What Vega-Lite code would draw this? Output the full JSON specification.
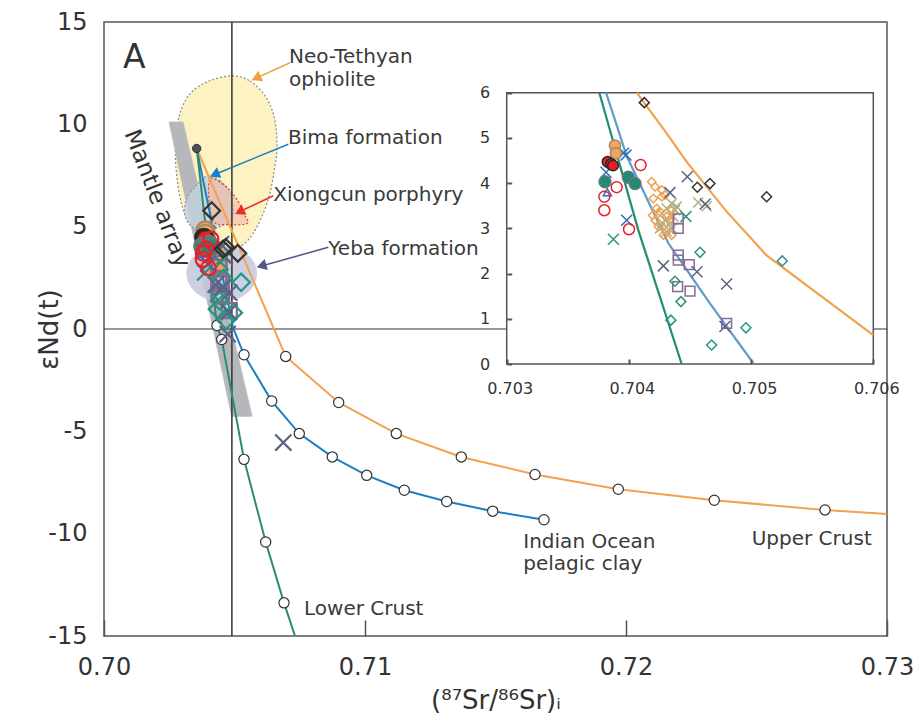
{
"$schema":"https://vega.github.io/schema/vega-lite/v6.json",
"width":783,"height":614,
"autosize":{"type":"none"},
"padding":{"left":104,"top":22,"right":27,"bottom":87},
"background":"white",
"config":{"font":"DejaVu Sans","view":{"stroke":"#555555","strokeWidth":1.5},"axis":{"grid":false,"labelColor":"#333333","titleColor":"#333333","titleFontWeight":"normal","labelFont":"DejaVu Sans","titleFont":"DejaVu Sans"}},
"datasets":{
"shapes":[
{"s":"oph","i":0,"x":0.70490,"y":12.37},{"s":"oph","i":1,"x":0.70559,"y":12.12},{"s":"oph","i":2,"x":0.70617,"y":11.39},{"s":"oph","i":3,"x":0.70651,"y":10.41},{"s":"oph","i":4,"x":0.70663,"y":9.05},{"s":"oph","i":5,"x":0.70655,"y":7.98},{"s":"oph","i":6,"x":0.70628,"y":6.27},{"s":"oph","i":7,"x":0.70571,"y":4.66},{"s":"oph","i":8,"x":0.70510,"y":3.95},{"s":"oph","i":9,"x":0.70440,"y":3.85},{"s":"oph","i":10,"x":0.70380,"y":4.30},{"s":"oph","i":11,"x":0.70320,"y":5.30},{"s":"oph","i":12,"x":0.70290,"y":6.50},{"s":"oph","i":13,"x":0.70275,"y":8.00},{"s":"oph","i":14,"x":0.70275,"y":9.20},{"s":"oph","i":15,"x":0.70290,"y":10.50},{"s":"oph","i":16,"x":0.70330,"y":11.50},{"s":"oph","i":17,"x":0.70400,"y":12.10},
{"s":"mantle","i":0,"x":0.70249,"y":10.12},{"s":"mantle","i":1,"x":0.70303,"y":10.12},{"s":"mantle","i":2,"x":0.70568,"y":-4.27},{"s":"mantle","i":3,"x":0.70489,"y":-4.27},
{"s":"xc","i":0,"x":0.704061,"y":7.34},{"s":"xc","i":1,"x":0.704521,"y":7.10},{"s":"xc","i":2,"x":0.704904,"y":6.66},{"s":"xc","i":3,"x":0.705211,"y":6.07},{"s":"xc","i":4,"x":0.705402,"y":5.54},{"s":"xc","i":5,"x":0.705479,"y":5.15},{"s":"xc","i":6,"x":0.704674,"y":5.10},{"s":"xc","i":7,"x":0.704215,"y":5.24},{"s":"xc","i":8,"x":0.704023,"y":6.27},
{"s":"bima","i":0,"x":0.703985,"y":7.49},{"s":"bima","i":1,"x":0.704444,"y":7.24},{"s":"bima","i":2,"x":0.704789,"y":6.76},{"s":"bima","i":3,"x":0.704943,"y":6.02},{"s":"bima","i":4,"x":0.704904,"y":5.39},{"s":"bima","i":5,"x":0.704444,"y":5.00},{"s":"bima","i":6,"x":0.703870,"y":4.80},{"s":"bima","i":7,"x":0.703372,"y":5.00},{"s":"bima","i":8,"x":0.703103,"y":5.54},{"s":"bima","i":9,"x":0.703142,"y":6.27},{"s":"bima","i":10,"x":0.703487,"y":6.95},
{"s":"yeba","i":0,"x":0.705851,"y":2.71},{"s":"yeba","i":1,"x":0.705671,"y":3.393},{"s":"yeba","i":2,"x":0.705181,"y":3.893},{"s":"yeba","i":3,"x":0.704510,"y":4.076},{"s":"yeba","i":4,"x":0.703840,"y":3.893},{"s":"yeba","i":5,"x":0.703349,"y":3.393},{"s":"yeba","i":6,"x":0.703169,"y":2.71},{"s":"yeba","i":7,"x":0.703349,"y":2.027},{"s":"yeba","i":8,"x":0.703840,"y":1.527},{"s":"yeba","i":9,"x":0.704510,"y":1.344},{"s":"yeba","i":10,"x":0.705181,"y":1.527},{"s":"yeba","i":11,"x":0.705671,"y":2.027}
],
"vref":[{"x":0.7049,"y":-15,"y2":15}],
"href":[{"x":0.70,"x2":0.73,"y":0}],
"curves":[
{"s":"UC","i":0,"x":0.703552,"y":8.82},{"s":"UC","i":1,"x":0.706962,"y":-1.34},{"s":"UC","i":2,"x":0.708992,"y":-3.59},{"s":"UC","i":3,"x":0.711199,"y":-5.11},{"s":"UC","i":4,"x":0.713690,"y":-6.25},{"s":"UC","i":5,"x":0.716513,"y":-7.11},{"s":"UC","i":6,"x":0.719705,"y":-7.83},{"s":"UC","i":7,"x":0.723383,"y":-8.37},{"s":"UC","i":8,"x":0.727625,"y":-8.84},{"s":"UC","i":9,"x":0.73,"y":-9.04},
{"s":"IOPC","i":0,"x":0.703552,"y":8.82},{"s":"IOPC","i":1,"x":0.704943,"y":0.07},{"s":"IOPC","i":2,"x":0.705364,"y":-1.26},{"s":"IOPC","i":3,"x":0.706425,"y":-3.52},{"s":"IOPC","i":4,"x":0.707483,"y":-5.11},{"s":"IOPC","i":5,"x":0.708747,"y":-6.25},{"s":"IOPC","i":6,"x":0.710065,"y":-7.15},{"s":"IOPC","i":7,"x":0.711506,"y":-7.88},{"s":"IOPC","i":8,"x":0.713130,"y":-8.43},{"s":"IOPC","i":9,"x":0.714893,"y":-8.90},{"s":"IOPC","i":10,"x":0.716858,"y":-9.32},
{"s":"LC","i":0,"x":0.703552,"y":8.82},{"s":"LC","i":1,"x":0.704330,"y":0.17},{"s":"LC","i":2,"x":0.704510,"y":-0.51},{"s":"LC","i":3,"x":0.705364,"y":-6.37},{"s":"LC","i":4,"x":0.706195,"y":-10.41},{"s":"LC","i":5,"x":0.706897,"y":-13.38},{"s":"LC","i":6,"x":0.707318,"y":-15.0}
],
"nodes":[
{"x":0.706962,"y":-1.34},{"x":0.708992,"y":-3.59},{"x":0.711199,"y":-5.11},{"x":0.713690,"y":-6.25},{"x":0.716513,"y":-7.11},{"x":0.719705,"y":-7.83},{"x":0.723383,"y":-8.37},{"x":0.727625,"y":-8.84},
{"x":0.705364,"y":-1.26},{"x":0.706425,"y":-3.52},{"x":0.707483,"y":-5.11},{"x":0.708747,"y":-6.25},{"x":0.710065,"y":-7.15},{"x":0.711506,"y":-7.88},{"x":0.713130,"y":-8.43},{"x":0.714893,"y":-8.90},{"x":0.716858,"y":-9.32},
{"x":0.704330,"y":0.17},{"x":0.704510,"y":-0.51},{"x":0.705364,"y":-6.37},{"x":0.706195,"y":-10.41},{"x":0.706897,"y":-13.38}
],
"start":[{"x":0.703552,"y":8.82}],
"markers":[
{"g":"kh","x":0.704568,"y":3.57},{"g":"kh","x":0.704636,"y":3.49},{"g":"kh","x":0.70427,"y":3.33},{"g":"kh","x":0.704309,"y":3.44},{"g":"kh","x":0.70435,"y":3.55},{"g":"kh","x":0.704377,"y":3.40},{"g":"kh","x":0.704295,"y":3.18},{"g":"kh","x":0.704336,"y":3.11},{"g":"kh","x":0.704254,"y":3.0},{"g":"kh","x":0.704364,"y":3.26},{"g":"kh","x":0.704391,"y":3.48},{"g":"kh","x":0.704276,"y":3.11},{"g":"kh","x":0.70435,"y":3.0},{"g":"kh","x":0.704309,"y":2.93},
{"g":"od","x":0.704186,"y":4.03},{"g":"od","x":0.704214,"y":3.92},{"g":"od","x":0.70427,"y":3.85},{"g":"od","x":0.704295,"y":3.74},{"g":"od","x":0.7042,"y":3.66},{"g":"od","x":0.704227,"y":3.44},{"g":"od","x":0.704194,"y":3.29},{"g":"od","x":0.704214,"y":3.18},{"g":"od","x":0.704241,"y":3.04},{"g":"od","x":0.704282,"y":2.85},{"g":"od","x":0.704309,"y":2.93},{"g":"od","x":0.70435,"y":2.85},{"g":"od","x":0.704254,"y":3.37},{"g":"od","x":0.704309,"y":3.26},{"g":"od","x":0.704336,"y":3.18},{"g":"od","x":0.70427,"y":3.70},{"g":"od","x":0.70435,"y":3.40},
{"g":"ps","x":0.704404,"y":3.21},{"g":"ps","x":0.704404,"y":3.0},{"g":"ps","x":0.704404,"y":2.41},{"g":"ps","x":0.704404,"y":2.30},{"g":"ps","x":0.704494,"y":2.20},{"g":"ps","x":0.704399,"y":1.71},{"g":"ps","x":0.7045,"y":1.61},{"g":"ps","x":0.7048,"y":0.90},
{"g":"td","x":0.704582,"y":2.47},{"g":"td","x":0.704377,"y":1.83},{"g":"td","x":0.704426,"y":1.38},{"g":"td","x":0.704344,"y":0.97},{"g":"td","x":0.704677,"y":0.42},{"g":"td","x":0.704958,"y":0.80},{"g":"td","x":0.705255,"y":2.28},
{"g":"sx","x":0.704336,"y":3.79},{"g":"sx","x":0.704478,"y":4.14},{"g":"sx","x":0.704625,"y":3.54},{"g":"sx","x":0.704282,"y":2.17},{"g":"sx","x":0.704557,"y":2.04},{"g":"sx","x":0.7048,"y":1.77},{"g":"sx","x":0.704786,"y":0.83},{"g":"sx","x":0.70687,"y":-5.55},{"g":"sx","x":0.70474,"y":-0.25},
{"g":"tx","x":0.703873,"y":2.76},{"g":"tx","x":0.704467,"y":3.26},
{"g":"bx","x":0.703976,"y":4.62},{"g":"bx","x":0.703955,"y":4.66},{"g":"bx","x":0.703813,"y":4.24},{"g":"bx","x":0.703982,"y":3.18},
{"g":"bt","x":0.703824,"y":3.80},
{"g":"oc","x":0.703886,"y":4.83},{"g":"oc","x":0.703894,"y":4.66},
{"g":"rf","x":0.703826,"y":4.47},{"g":"rf","x":0.703854,"y":4.42},{"g":"rf","x":0.70387,"y":4.39},
{"g":"tc","x":0.703804,"y":4.03},{"g":"tc","x":0.703995,"y":4.13},{"g":"tc","x":0.70405,"y":3.99},
{"g":"ro","x":0.704096,"y":4.40},{"g":"ro","x":0.7039,"y":3.91},{"g":"ro","x":0.703799,"y":3.70},{"g":"ro","x":0.703799,"y":3.40},{"g":"ro","x":0.704001,"y":2.98},
{"g":"bd","x":0.704126,"y":5.78},{"g":"bd","x":0.70456,"y":3.91},{"g":"bd","x":0.704663,"y":3.99},{"g":"bd","x":0.705127,"y":3.70}
],
"arrows":[
{"s":"a_oph","x":0.707126,"y":13.01,"x2":0.705831,"y2":12.26},
{"s":"a_bima","x":0.707061,"y":9.03,"x2":0.704238,"y2":7.55},
{"s":"a_xc","x":0.706487,"y":6.51,"x2":0.705192,"y2":5.73},
{"s":"a_yeba","x":0.708594,"y":3.99,"x2":0.706034,"y2":3.08}
],
"labels":[
{"t":"Neo-Tethyan","x":0.707088,"y":13.0},
{"t":"ophiolite","x":0.707088,"y":11.88},
{"t":"Bima formation","x":0.70705,"y":9.06},
{"t":"Xiongcun porphyry","x":0.706487,"y":6.27},
{"t":"Yeba formation","x":0.708594,"y":3.63},
{"t":"Lower Crust","x":0.707663,"y":-13.98},
{"t":"Indian Ocean","x":0.716065,"y":-10.72},
{"t":"pelagic clay","x":0.716065,"y":-11.78},
{"t":"Upper Crust","x":0.724816,"y":-10.56}
],
"alabel":[{"t":"A","x":0.700728,"y":12.76}],
"mlabel":[{"t":"Mantle array","x":0.702031,"y":6.37}],
"insetbox":[{"x":0.703,"x2":0.706,"y":0,"y2":6}],
"curves_inset":[
{"s":"UC_i","i":0,"x":0.704064,"y":6.0},{"s":"UC_i","i":1,"x":0.704309,"y":5.10},{"s":"UC_i","i":2,"x":0.704473,"y":4.47},{"s":"UC_i","i":3,"x":0.7048,"y":3.37},{"s":"UC_i","i":4,"x":0.704977,"y":2.85},{"s":"UC_i","i":5,"x":0.705127,"y":2.40},{"s":"UC_i","i":6,"x":0.706,"y":0.64},
{"s":"IOPC_i","i":0,"x":0.703813,"y":6.0},{"s":"IOPC_i","i":1,"x":0.703982,"y":4.60},{"s":"IOPC_i","i":2,"x":0.70414,"y":3.70},{"s":"IOPC_i","i":3,"x":0.704323,"y":2.67},{"s":"IOPC_i","i":4,"x":0.704663,"y":1.34},{"s":"IOPC_i","i":5,"x":0.705023,"y":0.0},
{"s":"LC_i","i":0,"x":0.703758,"y":6.0},{"s":"LC_i","i":1,"x":0.704077,"y":2.96},{"s":"LC_i","i":2,"x":0.704432,"y":0.0}
]
},
"layer":[
{
"encoding":{
"x":{"field":"x","type":"quantitative","scale":{"domain":[0.7,0.73],"nice":false,"zero":false},
 "axis":{"orient":"bottom","values":[0.7,0.71,0.72,0.73],"labelExpr":"format(datum.value,'.2f')","labelFontSize":24,"labelPadding":35,"tickSize":-16,"tickColor":"#555555","tickWidth":1.5,"domain":false,"labelFlush":false,"title":"(⁸⁷Sr/⁸⁶Sr)ᵢ","titleFontSize":26,"titlePadding":8,"zindex":1}},
"y":{"field":"y","type":"quantitative","scale":{"domain":[-15,15],"nice":false,"zero":false},
 "axis":{"orient":"left","values":[-15,-10,-5,0,5,10,15],"labelExpr":"''+datum.value","labelFontSize":24,"labelPadding":17,"ticks":false,"domain":false,"labelFlush":false,"title":"εNd(t)","titleFontSize":26,"titleX":-55,"titleY":307,"titleBaseline":"middle","zindex":1}}
},
"layer":[
{"data":{"name":"shapes"},"transform":[{"filter":"datum.s==='oph'"}],"mark":{"type":"line","interpolate":"cardinal-closed","fill":"#fcf2c2","stroke":"#8a8a8a","strokeWidth":1.2,"strokeDash":[2,2]},"encoding":{"order":{"field":"i","type":"quantitative"}}},
{"data":{"name":"shapes"},"transform":[{"filter":"datum.s==='mantle'"}],"mark":{"type":"line","interpolate":"linear-closed","fill":"#b6b7bb","stroke":"#b6b7bb","strokeWidth":0.5},"encoding":{"order":{"field":"i","type":"quantitative"}}},
{"data":{"name":"shapes"},"transform":[{"filter":"datum.s==='bima'"}],"mark":{"type":"line","interpolate":"cardinal-closed","fill":"#c3d1dd","fillOpacity":0.8,"stroke":"#8e9aa6","strokeWidth":1.2,"strokeDash":[2,2]},"encoding":{"order":{"field":"i","type":"quantitative"}}},
{"data":{"name":"shapes"},"transform":[{"filter":"datum.s==='xc'"}],"mark":{"type":"line","interpolate":"cardinal-closed","fill":"#f1b8a4","fillOpacity":0.6,"stroke":"#e0402e","strokeWidth":1.2,"strokeDash":[2,2]},"encoding":{"order":{"field":"i","type":"quantitative"}}},
{"data":{"name":"shapes"},"transform":[{"filter":"datum.s==='yeba'"}],"mark":{"type":"line","interpolate":"cardinal-closed","fill":"#c4c7dd","fillOpacity":0.85,"stroke":"#c4c7dd","strokeWidth":0.5},"encoding":{"order":{"field":"i","type":"quantitative"}}},
{"data":{"name":"vref"},"mark":{"type":"rule","color":"#333333","strokeWidth":1.5},"encoding":{"y2":{"field":"y2"}}},
{"data":{"name":"href"},"mark":{"type":"rule","color":"#333333","strokeWidth":1.2},"encoding":{"x2":{"field":"x2"}}},
{"data":{"name":"curves"},"mark":{"type":"line","strokeWidth":2},"encoding":{"color":{"field":"s","type":"nominal","scale":{"domain":["UC","IOPC","LC","UC_i","IOPC_i","LC_i","a_oph","a_bima","a_xc","a_yeba"],"range":["#f2a24e","#1a7fc3","#2b8a77","#f2a24e","#5d9dcc","#1f8c76","#f0a040","#1a80c8","#e8302a","#52548a"]},"legend":null},"order":{"field":"i","type":"quantitative"}}},
{"data":{"name":"nodes"},"mark":{"type":"point","filled":true,"fill":"white","stroke":"#333333","strokeWidth":1.2,"size":105,"opacity":1}},
{"data":{"name":"start"},"mark":{"type":"point","filled":true,"fill":"#4b4f60","stroke":"#333333","strokeWidth":1,"size":70,"opacity":1}},
{"data":{"name":"markers"},"mark":{"type":"point","opacity":1,"strokeWidth":2.2},"encoding":{
 "shape":{"field":"g","type":"nominal","scale":{"domain":["kh","od","ps","td","sx","tx","bx","bt","oc","rf","tc","ro","bd"],"range":["M-1,-1L1,1M-1,1L1,-1","diamond","square","diamond","M-1,-1L1,1M-1,1L1,-1","M-1,-1L1,1M-1,1L1,-1","M-1,-1L1,1M-1,1L1,-1","triangle-up","circle","circle","circle","circle","diamond"]},"legend":null},
 "stroke":{"field":"g","type":"nominal","scale":{"domain":["kh","od","ps","td","sx","tx","bx","bt","oc","rf","tc","ro","bd"],"range":["#a9b08a","#f0a050","#8a6a92","#2a9482","#5a6384","#2a9482","#2a6fc0","#2a6fc0","#a88860","#2a2a2a","#667a78","#e8202a","#333333"]},"legend":null},
 "fill":{"field":"g","type":"nominal","scale":{"domain":["kh","od","ps","td","sx","tx","bx","bt","oc","rf","tc","ro","bd"],"range":["transparent","transparent","transparent","transparent","transparent","transparent","transparent","transparent","#eda75e","#ec1c24","#228a78","transparent","transparent"]},"legend":null},
 "size":{"field":"g","type":"nominal","scale":{"type":"ordinal","domain":["kh","od","ps","td","sx","tx","bx","bt","oc","rf","tc","ro","bd"],"range":[200,200,225,300,260,260,240,150,314,300,330,218,280]},"legend":null}
}},
{"data":{"name":"arrows"},"mark":{"type":"rule","strokeWidth":1.5},"encoding":{"x2":{"field":"x2"},"y2":{"field":"y2"},"color":{"field":"s","type":"nominal","scale":{"domain":["UC","IOPC","LC","UC_i","IOPC_i","LC_i","a_oph","a_bima","a_xc","a_yeba"],"range":["#f2a24e","#1a7fc3","#2b8a77","#f2a24e","#5d9dcc","#1f8c76","#f0a040","#1a80c8","#e8302a","#52548a"]},"legend":null}}},
{"data":{"name":"arrows"},"transform":[{"filter":"datum.s==='a_oph'"}],"mark":{"type":"point","shape":"triangle-up","filled":true,"color":"#f0a040","size":130,"angle":245,"opacity":1},"encoding":{"x":{"field":"x2","type":"quantitative"},"y":{"field":"y2","type":"quantitative"}}},
{"data":{"name":"arrows"},"transform":[{"filter":"datum.s==='a_bima'"}],"mark":{"type":"point","shape":"triangle-up","filled":true,"color":"#1a80c8","size":130,"angle":247,"opacity":1},"encoding":{"x":{"field":"x2","type":"quantitative"},"y":{"field":"y2","type":"quantitative"}}},
{"data":{"name":"arrows"},"transform":[{"filter":"datum.s==='a_xc'"}],"mark":{"type":"point","shape":"triangle-up","filled":true,"color":"#e8302a","size":130,"angle":244,"opacity":1},"encoding":{"x":{"field":"x2","type":"quantitative"},"y":{"field":"y2","type":"quantitative"}}},
{"data":{"name":"arrows"},"transform":[{"filter":"datum.s==='a_yeba'"}],"mark":{"type":"point","shape":"triangle-up","filled":true,"color":"#52548a","size":130,"angle":254,"opacity":1},"encoding":{"x":{"field":"x2","type":"quantitative"},"y":{"field":"y2","type":"quantitative"}}},
{"data":{"name":"labels"},"mark":{"type":"text","align":"left","baseline":"alphabetic","fontSize":20,"color":"#3a3a3a"},"encoding":{"text":{"field":"t"}}},
{"data":{"name":"alabel"},"mark":{"type":"text","align":"left","baseline":"alphabetic","fontSize":33,"color":"#333333"},"encoding":{"text":{"field":"t"}}},
{"data":{"name":"mlabel"},"mark":{"type":"text","align":"center","baseline":"middle","fontSize":23,"angle":69,"color":"#333333"},"encoding":{"text":{"field":"t"}}}
]
},
{
"encoding":{
"x":{"field":"x","type":"quantitative","scale":{"domain":[0.703,0.706],"range":[402.7,769.3],"nice":false,"zero":false},
 "axis":{"orient":"bottom","offset":-272,"values":[0.703,0.704,0.705,0.706],"format":".3f","labelFontSize":16,"labelPadding":21,"labelOffset":3,"tickSize":-5,"tickColor":"#555555","tickWidth":2,"domain":false,"labelFlush":false,"title":null,"zindex":1}},
"y":{"field":"y","type":"quantitative","scale":{"domain":[0,6],"range":[342,70.7],"nice":false,"zero":false},
 "axis":{"orient":"left","offset":-402.7,"values":[0,1,2,3,4,5,6],"labelFontSize":16,"labelPadding":22,"tickSize":-5,"tickColor":"#555555","tickWidth":2,"domain":false,"labelFlush":false,"title":null,"zindex":1}}
},
"layer":[
{"data":{"name":"insetbox"},"mark":{"type":"rect","fill":"white","stroke":"#555555","strokeWidth":1.5},"encoding":{"x2":{"field":"x2"},"y2":{"field":"y2"}}},
{"data":{"name":"curves_inset"},"mark":{"type":"line","strokeWidth":2.2},"encoding":{"color":{"field":"s","type":"nominal","scale":{"domain":["UC","IOPC","LC","UC_i","IOPC_i","LC_i","a_oph","a_bima","a_xc","a_yeba"],"range":["#f2a24e","#1a7fc3","#2b8a77","#f2a24e","#5d9dcc","#1f8c76","#f0a040","#1a80c8","#e8302a","#52548a"]},"legend":null},"order":{"field":"i","type":"quantitative"}}},
{"data":{"name":"markers"},"transform":[{"filter":"datum.y >= 0"}],"mark":{"type":"point","opacity":1,"strokeWidth":1.5},"encoding":{
 "shape":{"field":"g","type":"nominal","scale":{"domain":["kh","od","ps","td","sx","tx","bx","bt","oc","rf","tc","ro","bd"],"range":["M-1,-1L1,1M-1,1L1,-1","diamond","square","diamond","M-1,-1L1,1M-1,1L1,-1","M-1,-1L1,1M-1,1L1,-1","M-1,-1L1,1M-1,1L1,-1","triangle-up","circle","circle","circle","circle","diamond"]},"legend":null},
 "stroke":{"field":"g","type":"nominal","scale":{"domain":["kh","od","ps","td","sx","tx","bx","bt","oc","rf","tc","ro","bd"],"range":["#a9b08a","#f0a050","#8a6a92","#2a9482","#5a6384","#2a9482","#2a6fc0","#2a6fc0","#a88860","#2a2a2a","#667a78","#e8202a","#333333"]},"legend":null},
 "fill":{"field":"g","type":"nominal","scale":{"domain":["kh","od","ps","td","sx","tx","bx","bt","oc","rf","tc","ro","bd"],"range":["transparent","transparent","transparent","transparent","transparent","transparent","transparent","transparent","#eda75e","#ec1c24","#228a78","transparent","transparent"]},"legend":null},
 "size":{"field":"g","type":"nominal","scale":{"type":"ordinal","domain":["kh","od","ps","td","sx","tx","bx","bt","oc","rf","tc","ro","bd"],"range":[100,70,95,100,120,120,120,64,125,115,140,120,100]},"legend":null}
}}
]
}
],
"resolve":{"scale":{"x":"independent","y":"independent","size":"independent"}}
}
